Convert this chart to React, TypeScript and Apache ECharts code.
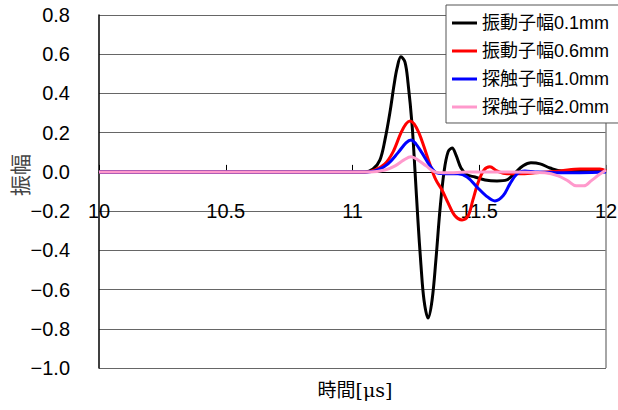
import React, { useEffect, useRef } from "react";
import * as echarts from "echarts";

const seriesNames = ["振動子幅0.1mm", "振動子幅0.6mm", "探触子幅1.0mm", "探触子幅2.0mm"];
const seriesColors = ["#000000", "#ff0000", "#0000ff", "#ff99cc"];

const tBlack = [10, 11.049, 11.081, 11.108, 11.128, 11.148, 11.164, 11.176, 11.191, 11.207, 11.219, 11.235, 11.247, 11.258, 11.27, 11.282, 11.298, 11.314, 11.329, 11.345, 11.361, 11.377, 11.393, 11.408, 11.428, 11.452, 11.483, 11.523, 11.57, 11.609, 11.641, 11.673, 11.704, 11.74, 11.779, 11.826, 12];
const vBlack = [0, 0, 0.015, 0.06, 0.163, 0.306, 0.444, 0.53, 0.587, 0.56, 0.454, 0.24, -0.005, -0.245, -0.474, -0.653, -0.745, -0.653, -0.449, -0.194, 0, 0.102, 0.122, 0.087, 0.02, -0.015, -0.026, -0.041, -0.046, -0.041, -0.005, 0.031, 0.046, 0.041, 0.02, 0.005, 0.005];

const tRed = [10, 11.049, 11.089, 11.128, 11.16, 11.191, 11.211, 11.227, 11.243, 11.262, 11.282, 11.306, 11.329, 11.353, 11.377, 11.404, 11.432, 11.456, 11.475, 11.495, 11.519, 11.542, 11.57, 11.609, 11.661, 11.72, 11.819, 11.897, 11.976, 12];
const vRed = [0, 0, 0.01, 0.041, 0.102, 0.199, 0.245, 0.26, 0.245, 0.199, 0.128, 0.036, -0.041, -0.092, -0.158, -0.224, -0.245, -0.224, -0.143, -0.056, 0.01, 0.026, 0.005, -0.01, -0.01, -0.005, 0.005, 0.015, 0.015, 0.005];

const tBlue = [10, 11.061, 11.1, 11.14, 11.179, 11.211, 11.231, 11.25, 11.274, 11.306, 11.333, 11.373, 11.416, 11.452, 11.491, 11.527, 11.562, 11.594, 11.621, 11.649, 11.68, 11.72, 11.819, 12];
const vBlue = [0, 0, 0.01, 0.041, 0.097, 0.148, 0.163, 0.143, 0.097, 0.031, -0.005, -0.01, -0.01, -0.026, -0.077, -0.122, -0.148, -0.122, -0.061, -0.01, 0.005, 0, -0.005, 0];

const tPink = [10, 11.069, 11.128, 11.168, 11.203, 11.231, 11.258, 11.29, 11.325, 11.365, 11.463, 11.582, 11.759, 11.811, 11.85, 11.882, 11.913, 11.941, 11.972, 12];
const vPink = [0, 0, 0.01, 0.031, 0.061, 0.077, 0.061, 0.031, 0, -0.005, 0, 0, -0.005, -0.02, -0.046, -0.071, -0.071, -0.046, -0.015, 0.01];

const xTicks = [10, 10.5, 11, 11.5, 12];
const yMin = -1.0;
const yMax = 0.8;
const yStep = 0.2;
const xTitle = "時間[μs]";
const yTitle = "振幅";

const seriesT = [tBlack, tRed, tBlue, tPink];
const seriesV = [vBlack, vRed, vBlue, vPink];

const LATIN = "'Liberation Sans', Arial, 'Noto Sans CJK JP', sans-serif";

const GRID_TOP = 15;
const GRID_BOTTOM_PX = 368;
// distance from grid bottom up to the zero line
const zeroOffset = -((GRID_BOTTOM_PX - GRID_TOP) * (0 - yMin)) / (yMax - yMin);

export default function App() {
  const ref = useRef<HTMLDivElement>(null);
  useEffect(() => {
    if (!ref.current) return;
    const chart = echarts.init(ref.current, undefined, { renderer: "svg" });
    const series = seriesNames.map((name, i) => ({
      name,
      type: "line",
      data: seriesT[i].map((t, k) => [t, seriesV[i][k]]),
      smooth: 0.35,
      symbol: "none",
      showSymbol: false,
      lineStyle: { color: seriesColors[i], width: 3 },
      itemStyle: { color: seriesColors[i] },
      z: 2 + i,
    }));
    chart.setOption({
      animation: false,
      backgroundColor: "#ffffff",
      grid: { left: 99, right: 12, top: GRID_TOP, bottom: 410 - GRID_BOTTOM_PX, containLabel: false, outerBoundsMode: "none" },
      legend: {
        orient: "vertical",
        left: 446,
        top: 5,
        padding: [9, 10, 7, 6],
        backgroundColor: "#ffffff",
        borderColor: "#555555",
        borderWidth: 1,
        borderRadius: 0,
        itemWidth: 25,
        itemHeight: 14,
        itemGap: 10,
        icon: "path://M0,6 L25,6 L25,9 L0,9 Z",
        textStyle: { fontSize: 18, color: "#000", fontFamily: LATIN },
        data: seriesNames,
        z: 20,
      },
      xAxis: {
        type: "value",
        position: "bottom",
        offset: zeroOffset,
        min: xTicks[0],
        max: xTicks[xTicks.length - 1],
        interval: 0.5,
        axisLine: { show: true, onZero: false, lineStyle: { color: "#000", width: 1 } },
        axisTick: { show: true, inside: true, length: 7, lineStyle: { color: "#000" } },
        axisLabel: {
          margin: 29,
          fontSize: 20,
          color: "#000",
          fontFamily: LATIN,
          formatter: (v: number) => String(v),
        },
        splitLine: { show: false },
      },
      yAxis: [
        {
          type: "value",
          min: yMin,
          max: yMax,
          interval: yStep,
          axisLine: { show: true, onZero: false, lineStyle: { color: "#000", width: 1.5 } },
          axisTick: { show: false },
          axisLabel: {
            margin: 29,
            fontSize: 20,
            color: "#000",
            fontFamily: LATIN,
            formatter: (v: number) => {
              const s = Math.abs(v).toFixed(1);
              return v < -1e-9 ? "−" + s : s;
            },
          },
          splitLine: { show: true, lineStyle: { color: "#666666", width: 1 } },
        },
      ],
      graphic: [
        {
          type: "line",
          shape: { x1: 606, y1: GRID_TOP, x2: 606, y2: GRID_BOTTOM_PX },
          style: { stroke: "#888888", lineWidth: 1.5 },
          z: 1,
        },
        {
          type: "text",
          x: 19,
          y: 175,
          rotation: Math.PI / 2,
          style: {
            text: yTitle,
            fontSize: 21,
            fill: "#444",
            fontFamily: "'Noto Sans CJK JP', sans-serif",
            align: "center",
            verticalAlign: "middle",
          },
        },
        {
          type: "text",
          x: 355,
          y: 390,
          style: {
            text: xTitle,
            fontSize: 19,
            fill: "#000",
            fontFamily: "'DejaVu Serif', 'Noto Sans CJK JP', serif",
            align: "center",
            verticalAlign: "middle",
          },
        },
      ],
      series,
    });
    return () => chart.dispose();
  }, []);
  return (
    <div
      ref={ref}
      style={{ position: "fixed", left: 0, top: 0, width: 618, height: 410, background: "#fff" }}
    />
  );
}
